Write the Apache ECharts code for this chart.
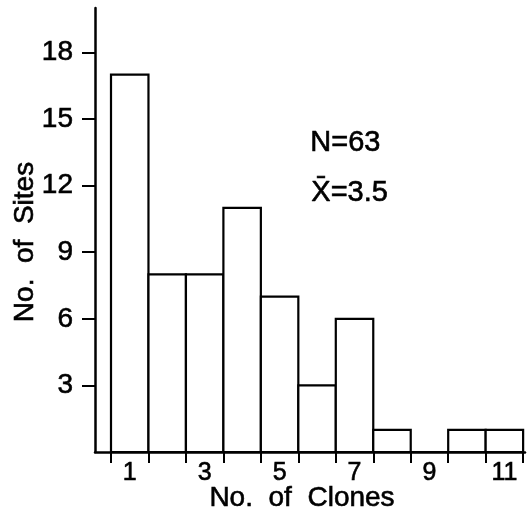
<!DOCTYPE html>
<html>
<head>
<meta charset="utf-8">
<script src="https://cdn.jsdelivr.net/npm/echarts@6/dist/echarts.min.js"></script>
<style>
  html, body { margin: 0; padding: 0; background: #fff; }
  #chart { width: 529px; height: 513px; }
</style>
</head>
<body>
<div id="chart"></div>
<script>
// No. of clones per site (bins 1..11) and number of sites in each
const clones = [1, 2, 3, 4, 5, 6, 7, 8, 9, 10, 11]
const sites = [17, 8, 8, 11, 7, 3, 6, 1, 0, 1, 1]
const xTicks = [0.5, 1.5, 2.5, 3.5, 4.5, 5.5, 6.5, 7.5, 8.5, 9.5, 10.5, 11.5]
const xLabels = [1, 3, 5, 7, 9, 11]
const yTicks = [3, 6, 9, 12, 15, 18]

const font = 'Liberation Sans, Arial, sans-serif'
// a thin outline makes the text about as heavy as the printed figure
const ink = { fill: '#000', fontFamily: font, stroke: '#000', lineWidth: 0.6 }
const chart = echarts.init(document.getElementById('chart'))

chart.setOption({
  animation: false,
  grid: { left: 95, right: 4, top: 8, bottom: 61 },
  xAxis: {
    type: 'value',
    min: 0.073,
    max: 11.55,
    splitLine: { show: false },
    axisLine: { show: true, onZero: false, lineStyle: { color: '#000', width: 2.5 } },
    axisTick: { show: true, length: 11, customValues: xTicks, lineStyle: { color: '#000', width: 2 } },
    axisLabel: {
      customValues: xLabels, color: '#000', fontSize: 25, fontFamily: font, margin: 9,
      textBorderColor: '#000', textBorderWidth: 0.6
    }
  },
  yAxis: {
    type: 'value',
    min: 0,
    max: 20,
    splitLine: { show: false },
    axisLine: { show: true, lineStyle: { color: '#000', width: 2.5 } },
    axisTick: { show: true, length: 13, customValues: yTicks, lineStyle: { color: '#000', width: 2 } },
    axisLabel: {
      customValues: yTicks, color: '#000', fontSize: 28, fontFamily: font, margin: 22,
      textBorderColor: '#000', textBorderWidth: 0.6
    }
  },
  graphic: [
    {
      type: 'text', x: 302, y: 498,
      style: Object.assign({ text: 'No.  of  Clones', fontSize: 28, align: 'center', verticalAlign: 'middle' }, ink)
    },
    {
      type: 'text', x: 25, y: 242, rotation: Math.PI / 2,
      style: Object.assign({ text: 'No.  of  Sites', fontSize: 28, align: 'center', verticalAlign: 'middle' }, ink)
    },
    { type: 'text', left: 310, top: 128, style: Object.assign({ text: 'N=63', fontSize: 29 }, ink) },
    { type: 'text', left: 311, top: 178, style: Object.assign({ text: 'X\u0304=3.5', fontSize: 29 }, ink) }
  ],
  series: [{
    type: 'custom',
    data: clones.map((c, i) => [c, sites[i]]),
    renderItem(params, api) {
      const x = api.value(0)
      const y = api.value(1)
      const p0 = api.coord([x - 0.5, y])
      const p1 = api.coord([x + 0.5, 0])
      return {
        type: 'rect',
        shape: { x: p0[0], y: p0[1], width: p1[0] - p0[0], height: p1[1] - p0[1] },
        style: { fill: '#fff', stroke: '#000', lineWidth: 2.2 }
      }
    }
  }]
})
</script>
</body>
</html>
